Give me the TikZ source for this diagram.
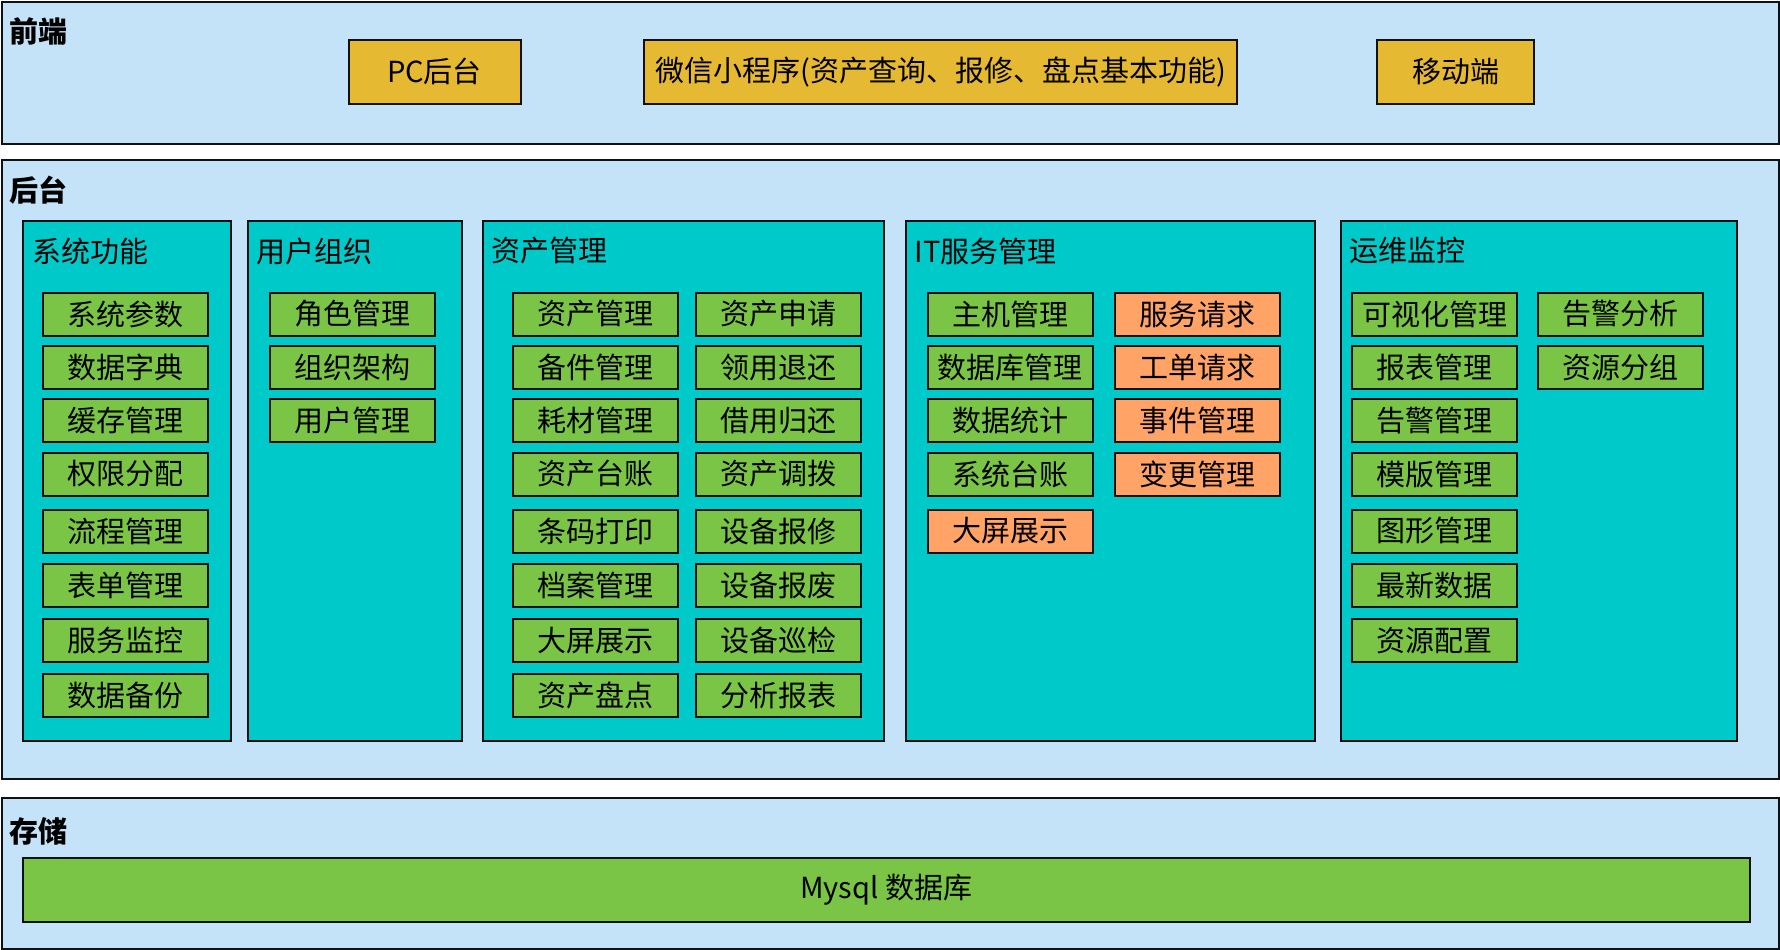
\documentclass[tikz,border=0pt]{standalone}
\usepackage{fontspec}
\setmainfont{Noto Sans CJK SC}
\definecolor{panelc}{HTML}{C5E3F8}
\definecolor{grpc}{HTML}{00C9C9}
\definecolor{itemg}{HTML}{7AC546}
\definecolor{itemo}{HTML}{FFA366}
\definecolor{fronty}{HTML}{E5B932}
\definecolor{linec}{HTML}{111111}
\tikzset{
  panelbox/.style={draw=linec, line width=2pt, fill=panelc, anchor=north west, inner sep=0pt},
  grpbox/.style={draw=linec, line width=2pt, fill=grpc, anchor=north west, inner sep=0pt},
  itembox/.style={draw=linec, line width=2pt, fill=itemg, minimum width=165pt, minimum height=43pt, inner sep=0pt, font=\fontsize{29}{33}\selectfont},
  orgbox/.style={itembox, fill=itemo},
  frontbox/.style={draw=linec, line width=2pt, fill=fronty, minimum height=64pt, inner sep=0pt, font=\fontsize{29}{33}\selectfont},
  paneltitle/.style={anchor=west, inner sep=0pt, font=\bfseries\fontsize{29}{33}\selectfont},
  grptitle/.style={anchor=west, inner sep=0pt, font=\fontsize{29}{33}\selectfont},
}
\begin{document}
\begin{tikzpicture}[x=1pt,y=-1pt]
\useasboundingbox (0,0) rectangle (1780,950);
% panels
\node (front) [panelbox, minimum width=1777pt, minimum height=141.5pt] at (1,1) {};
\node (back) [panelbox, minimum width=1777pt, minimum height=618.5pt] at (1,159) {};
\node (store) [panelbox, minimum width=1777pt, minimum height=150.5pt] at (1,797.3) {};
\node (tfront) [paneltitle] at (9,31.7) {前端};
\node (tback) [paneltitle] at (9,190) {后台};
\node (tstore) [paneltitle] at (9,831.7) {存储};
% front boxes
\node (pc) [frontbox, minimum width=172pt] at (434.5,71.8) {PC后台};
\node (wx) [frontbox, minimum width=592.5pt] at (940.6,71.8) {微信小程序(资产查询、报修、盘点基本功能)};
\node (mob) [frontbox, minimum width=157.5pt] at (1455.5,71.8) {移动端};
% groups
\node (g1) [grpbox, minimum width=207.7pt, minimum height=519.5pt] at (22.3,220) {};
\node (g2) [grpbox, minimum width=214.3pt, minimum height=519.5pt] at (246.7,220) {};
\node (g3) [grpbox, minimum width=401pt, minimum height=519.5pt] at (481.7,220) {};
\node (g4) [grpbox, minimum width=409.3pt, minimum height=519.5pt] at (905,220) {};
\node (g5) [grpbox, minimum width=395.7pt, minimum height=519.5pt] at (1340,220) {};
\node (t1) [grptitle] at (32.5,251) {系统功能};
\node (t2) [grptitle] at (256.5,251) {用户组织};
\node (t3) [grptitle] at (491,251) {资产管理};
\node (t4) [grptitle] at (914.5,251) {IT服务管理};
\node (t5) [grptitle] at (1349.5,251) {运维监控};
% system functions
\node (s1) [itembox] at (125.8,314) {系统参数};
\node (s2) [itembox] at (125.8,367.5) {数据字典};
\node (s3) [itembox] at (125.8,420.5) {缓存管理};
\node (s4) [itembox] at (125.8,474) {权限分配};
\node (s5) [itembox] at (125.8,531) {流程管理};
\node (s6) [itembox] at (125.8,585.2) {表单管理};
\node (s7) [itembox] at (125.8,640.2) {服务监控};
\node (s8) [itembox] at (125.8,695.2) {数据备份};
% user org
\node (u1) [itembox] at (352.8,314) {角色管理};
\node (u2) [itembox] at (352.8,367.5) {组织架构};
\node (u3) [itembox] at (352.8,420.5) {用户管理};
% assets
\node (a1) [itembox] at (595.8,314) {资产管理};
\node (a2) [itembox] at (595.8,367.5) {备件管理};
\node (a3) [itembox] at (595.8,420.5) {耗材管理};
\node (a4) [itembox] at (595.8,474) {资产台账};
\node (a5) [itembox] at (595.8,531) {条码打印};
\node (a6) [itembox] at (595.8,585.2) {档案管理};
\node (a7) [itembox] at (595.8,640.2) {大屏展示};
\node (a8) [itembox] at (595.8,695.2) {资产盘点};
\node (b1) [itembox] at (778,314) {资产申请};
\node (b2) [itembox] at (778,367.5) {领用退还};
\node (b3) [itembox] at (778,420.5) {借用归还};
\node (b4) [itembox] at (778,474) {资产调拨};
\node (b5) [itembox] at (778,531) {设备报修};
\node (b6) [itembox] at (778,585.2) {设备报废};
\node (b7) [itembox] at (778,640.2) {设备巡检};
\node (b8) [itembox] at (778,695.2) {分析报表};
% IT service
\node (i1) [itembox] at (1010,314) {主机管理};
\node (i2) [itembox] at (1010,367.5) {数据库管理};
\node (i3) [itembox] at (1010,420.5) {数据统计};
\node (i4) [itembox] at (1010,474) {系统台账};
\node (i5) [orgbox] at (1010,531) {大屏展示};
\node (j1) [orgbox] at (1197.2,314) {服务请求};
\node (j2) [orgbox] at (1197.2,367.5) {工单请求};
\node (j3) [orgbox] at (1197.2,420.5) {事件管理};
\node (j4) [orgbox] at (1197.2,474) {变更管理};
% ops monitoring
\node (m1) [itembox] at (1434.8,314) {可视化管理};
\node (m2) [itembox] at (1434.8,367.5) {报表管理};
\node (m3) [itembox] at (1434.8,420.5) {告警管理};
\node (m4) [itembox] at (1434.8,474) {模版管理};
\node (m5) [itembox] at (1434.8,531) {图形管理};
\node (m6) [itembox] at (1434.8,585.2) {最新数据};
\node (m7) [itembox] at (1434.8,640.2) {资源配置};
\node (n1) [itembox] at (1620.8,314) {告警分析};
\node (n2) [itembox] at (1620.8,367.5) {资源分组};
% storage
\node (db) [itembox, minimum width=1727pt, minimum height=64.5pt] at (886.2,889.8) {Mysql 数据库};
\end{tikzpicture}
\end{document}
